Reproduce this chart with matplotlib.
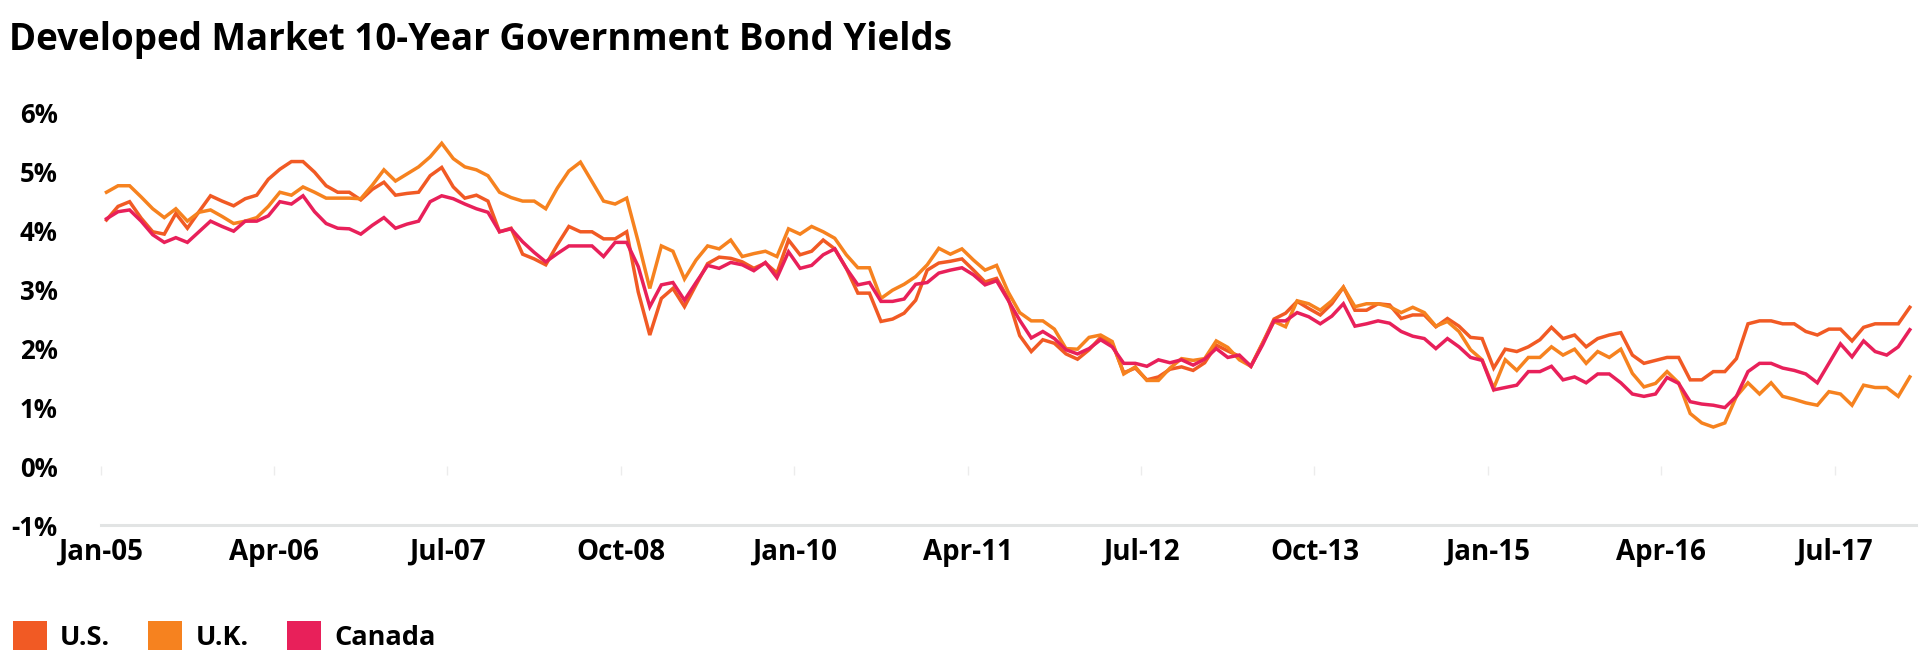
import numpy as np
import matplotlib
matplotlib.use("Agg")
import matplotlib.pyplot as plt
from matplotlib.patches import Patch

# month-end 10y yields, Jan-2005 .. Jan-2018 (12 values per row)
us = [
    4.17, 4.40, 4.48, 4.20, 3.97, 3.93, 4.28, 4.03, 4.31, 4.58, 4.49, 4.41,
    4.53, 4.59, 4.86, 5.03, 5.16, 5.16, 4.98, 4.75, 4.64, 4.64, 4.51, 4.69,
    4.81, 4.59, 4.62, 4.64, 4.92, 5.06, 4.73, 4.54, 4.59, 4.49, 3.97, 4.03,
    3.59, 3.51, 3.41, 3.75, 4.06, 3.97, 3.97, 3.85, 3.85, 3.97, 2.95, 2.22,
    2.84, 3.01, 2.70, 3.07, 3.43, 3.54, 3.52, 3.46, 3.35, 3.44, 3.27, 3.83,
    3.58, 3.64, 3.83, 3.68, 3.35, 2.93, 2.93, 2.45, 2.49, 2.59, 2.81, 3.32,
    3.44, 3.47, 3.51, 3.32, 3.12, 3.18, 2.84, 2.21, 1.94, 2.14, 2.08, 1.90,
    1.81, 1.97, 2.18, 2.08, 1.58, 1.66, 1.46, 1.51, 1.64, 1.68, 1.62, 1.75,
    2.05, 1.95, 1.86, 1.69, 2.08, 2.49, 2.59, 2.79, 2.67, 2.56, 2.75, 3.03,
    2.64, 2.64, 2.75, 2.73, 2.50, 2.56, 2.56, 2.36, 2.50, 2.37, 2.18, 2.16,
    1.66, 1.98, 1.94, 2.02, 2.14, 2.35, 2.16, 2.22, 2.02, 2.16, 2.22, 2.26,
    1.88, 1.74, 1.79, 1.84, 1.84, 1.46, 1.46, 1.60, 1.60, 1.82, 2.41, 2.46,
    2.46, 2.41, 2.41, 2.28, 2.22, 2.32, 2.32, 2.12, 2.35, 2.41, 2.41, 2.41,
    2.69,
]
uk = [
    4.64, 4.75, 4.75, 4.56, 4.36, 4.21, 4.36, 4.15, 4.30, 4.34, 4.23, 4.11,
    4.15, 4.21, 4.40, 4.64, 4.59, 4.73, 4.64, 4.54, 4.54, 4.54, 4.53, 4.76,
    5.02, 4.83, 4.95, 5.07, 5.24, 5.47, 5.21, 5.07, 5.02, 4.92, 4.64, 4.55,
    4.49, 4.49, 4.36, 4.71, 5.00, 5.15, 4.82, 4.49, 4.44, 4.54, 3.80, 3.01,
    3.73, 3.64, 3.17, 3.49, 3.73, 3.68, 3.83, 3.55, 3.60, 3.64, 3.55, 4.02,
    3.93, 4.06, 3.97, 3.86, 3.58, 3.36, 3.36, 2.84, 2.98, 3.08, 3.21, 3.41,
    3.69, 3.59, 3.68, 3.49, 3.32, 3.40, 2.95, 2.60, 2.46, 2.46, 2.32, 1.99,
    1.98, 2.18, 2.22, 2.11, 1.56, 1.68, 1.45, 1.45, 1.66, 1.82, 1.79, 1.82,
    2.12, 2.01, 1.80, 1.69, 2.08, 2.45, 2.36, 2.80, 2.75, 2.64, 2.80, 3.03,
    2.70, 2.75, 2.75, 2.70, 2.60, 2.69, 2.60, 2.37, 2.45, 2.28, 1.97, 1.80,
    1.32, 1.80, 1.62, 1.84, 1.84, 2.02, 1.88, 1.98, 1.74, 1.94, 1.84, 1.98,
    1.57, 1.34, 1.40, 1.60, 1.41, 0.89, 0.73, 0.66, 0.73, 1.18, 1.41, 1.22,
    1.41, 1.18, 1.13, 1.07, 1.03, 1.26, 1.22, 1.03, 1.37, 1.33, 1.33, 1.18,
    1.51,
]
canada = [
    4.19, 4.31, 4.34, 4.15, 3.92, 3.79, 3.87, 3.79, 3.97, 4.15, 4.06, 3.98,
    4.15, 4.15, 4.24, 4.48, 4.44, 4.58, 4.31, 4.11, 4.03, 4.02, 3.93, 4.08,
    4.21, 4.03, 4.10, 4.15, 4.48, 4.58, 4.53, 4.44, 4.36, 4.30, 3.97, 4.02,
    3.80, 3.62, 3.46, 3.60, 3.73, 3.73, 3.73, 3.55, 3.79, 3.79, 3.38, 2.70,
    3.07, 3.11, 2.81, 3.11, 3.40, 3.35, 3.45, 3.41, 3.31, 3.45, 3.19, 3.63,
    3.35, 3.40, 3.58, 3.68, 3.35, 3.07, 3.11, 2.79, 2.79, 2.83, 3.08, 3.11,
    3.27, 3.32, 3.36, 3.24, 3.07, 3.14, 2.81, 2.47, 2.17, 2.28, 2.16, 1.97,
    1.90, 1.99, 2.14, 2.02, 1.74, 1.74, 1.69, 1.80, 1.75, 1.80, 1.71, 1.81,
    1.99, 1.84, 1.88, 1.69, 2.05, 2.46, 2.46, 2.60, 2.53, 2.41, 2.54, 2.75,
    2.37, 2.41, 2.46, 2.42, 2.28, 2.20, 2.16, 1.99, 2.16, 2.02, 1.84, 1.79,
    1.29, 1.33, 1.37, 1.60, 1.60, 1.69, 1.46, 1.51, 1.41, 1.56, 1.56, 1.41,
    1.22, 1.18, 1.22, 1.50, 1.40, 1.09, 1.05, 1.03, 0.99, 1.18, 1.60, 1.74,
    1.74, 1.66, 1.62, 1.56, 1.41, 1.74, 2.07, 1.85, 2.12, 1.94, 1.88, 2.02,
    2.31,
]

series_names = ["U.S.", "U.K.", "Canada"]
series_colors = ["#F15A24", "#F6821F", "#E8205A"]

tick_labels = ["Jan-05", "Apr-06", "Jul-07", "Oct-08", "Jan-10", "Apr-11",
               "Jul-12", "Oct-13", "Jan-15", "Apr-16", "Jul-17"]
tick_step = 15  # months between labels

y_ticks = [-1, 0, 1, 2, 3, 4, 5, 6]

FONT = "Open Sans"
plt.rcParams["font.family"] = [FONT, "DejaVu Sans"]

W, H = 1921, 666
fig = plt.figure(figsize=(W / 100, H / 100), dpi=100)
fig.patch.set_facecolor("white")

# axes box in pixels: left 100.7, right 1915.6, top 112, bottom 525
ax = fig.add_axes([100.7 / W, 1 - 525 / H, (1915.6 - 100.7) / W, (525 - 112) / H])

x = np.arange(len(us))
for vals, name, col in zip([us, uk, canada], series_names, series_colors):
    ax.plot(x, vals, color=col, lw=2.5, solid_joinstyle="miter", label=name)

ax.set_xlim(-0.5, len(us) - 0.5)
ax.set_ylim(-1, 6)

# baseline at -1%
ax.axhline(-1, color="#e2e4e4", lw=2.2, zorder=0, clip_on=False)

for s in ["top", "right", "left"]:
    ax.spines[s].set_visible(False)
ax.spines["bottom"].set_position(("data", 0))
ax.spines["bottom"].set_visible(False)

ax.set_xticks([-0.5 + tick_step * k for k in range(len(tick_labels))])
ax.set_xticklabels(tick_labels, fontsize=20, fontweight="bold")
ax.tick_params(axis="x", length=6.5, width=1, color="#ececec", pad=45)

ax.set_yticks(y_ticks)
ax.set_yticklabels([f"{v}%" for v in y_ticks], fontsize=18.5, fontweight="bold")
ax.tick_params(axis="y", length=0, pad=31)

fig.text(9 / W, 1 - 50 / H, "Developed Market 10-Year Government Bond Yields",
         fontsize=26.5, fontweight="bold", ha="left", va="baseline")

handles = [Patch(facecolor=c, edgecolor="none") for c in series_colors]
leg = fig.legend(handles, series_names, loc="center left",
                 bbox_to_anchor=(2 / W, 1 - 636 / H), ncol=3, frameon=False,
                 handlelength=1.25, handleheight=1.25, handletextpad=0.5,
                 columnspacing=1.4, borderaxespad=0,
                 prop={"family": FONT, "size": 19.5, "weight": "bold"})

fig.savefig("out.png", dpi=100, facecolor="white")
